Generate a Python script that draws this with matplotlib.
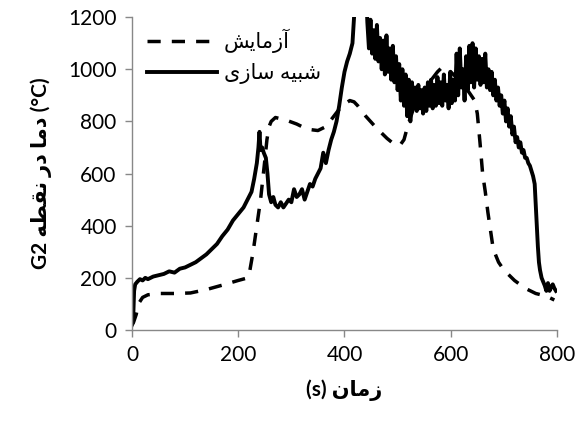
import matplotlib
matplotlib.use("Agg")
from matplotlib import pyplot as plt

# experiment (dashed)
exp_t = [0, 3, 8, 12, 20, 30, 50, 80, 110, 140, 170, 200, 218, 222, 228, 235,
         242, 250, 254, 258, 262, 270, 290, 310, 330, 350, 365, 380, 395, 410,
         418, 425, 440, 460, 480, 495, 505, 512, 520, 530, 545, 560, 575, 585,
         600, 620, 635, 645, 650, 655, 660, 665, 670, 675, 680, 690, 700, 720,
         740, 760, 780, 795]
exp_T = [20, 30, 60, 100, 125, 135, 140, 140, 142, 155, 172, 190, 200, 230,
         300, 400, 500, 650, 730, 780, 800, 815, 805, 790, 770, 765, 780, 820,
         860, 880, 875, 860, 820, 775, 735, 710, 710, 730, 790, 850, 900, 950,
         990, 1010, 990, 950, 910, 880, 830, 720, 600, 530, 450, 380, 310, 260,
         230, 190, 160, 140, 130, 115]

# simulation (solid)
sim_t = [0, 2, 4, 6, 10, 15, 20, 25, 30, 40, 50, 60, 70, 80, 90, 100, 110,
         120, 130, 140, 150, 160, 170, 180, 190, 200, 210, 220, 225, 230, 235,
         238, 240, 242, 245, 248, 252, 255, 258, 262, 266, 270, 275, 280, 285,
         290, 295, 300, 305, 310, 315, 320, 325, 330, 335, 340, 345, 350, 355,
         360, 365, 370, 375, 380, 385, 390, 395, 400, 405, 410, 415, 418, 422,
         440,
         443, 446, 449, 452, 455, 458, 461, 464, 467, 470, 473, 476, 479, 482,
         485, 488, 491, 494, 497, 500, 503, 506, 509, 512, 515, 518, 521, 524,
         527, 530, 533, 536, 539, 542, 545, 548, 551, 554, 557, 560,
         563, 566, 569, 572, 575, 578, 581, 584, 587, 590, 593, 596, 599, 602,
         605, 608, 611, 614, 617, 620, 623, 626, 629, 632, 635, 638, 641, 644,
         647, 650, 653, 656, 659, 662, 665, 668, 671, 674, 677, 680, 683, 686,
         689, 692, 695, 698, 701, 704, 707, 710, 713, 716, 719, 722, 725, 728,
         731, 734, 737, 740, 743, 746, 749, 752, 755, 758, 760, 762, 764, 766,
         768, 771, 774, 777, 780, 783, 786, 789, 792, 795, 798]
sim_T = [20, 30, 150, 175, 185, 195, 190, 200, 195, 205, 210, 215, 225, 220,
         235, 240, 250, 260, 275, 290, 310, 330, 360, 385, 420, 445, 470, 510,
         530, 580, 640, 700, 760, 690, 700, 680, 660, 600, 520, 490, 510, 480,
         470, 490, 470, 485, 500, 490, 540, 510, 520, 540, 500, 530, 560, 550,
         580, 600, 620, 680, 640, 690, 730, 760, 800, 860, 930, 990, 1030, 1060,
         1100, 1200, 1350, 1350,
         1180, 1080, 1190, 1060, 1150, 1040, 1170, 1030, 1120, 1000, 1110, 980,
         1130, 990, 1080, 960, 1090, 950, 1050, 920, 1020, 880, 1000, 860, 980,
         820, 960, 800, 950, 850, 930, 840, 940, 850, 920, 830, 930, 840, 950,
         860,
         960, 850, 940, 860, 970, 870, 950, 860, 980, 880, 940, 850, 990, 870,
         960, 880, 1060, 900, 1080, 930, 1000, 880, 1050, 920, 1090, 950, 1100,
         930, 1080, 960, 1050, 940, 1040, 950, 1060, 930, 1000, 920, 990, 900,
         960, 880, 930, 860, 900, 830, 880, 800, 850, 780, 820, 750, 780, 720,
         740, 700, 720, 680, 690, 660, 660, 640, 630, 610, 590, 560, 480, 400,
         320, 260, 230, 200, 185, 170, 150, 180, 150, 165, 175, 160, 150]

x_ticks = [0, 200, 400, 600, 800]
y_ticks = [0, 200, 400, 600, 800, 1000, 1200]

# Arabic-script labels written in shaped presentation forms, visual order
lbl_exp = "\uFEB6\uFBFE\uFE8E\uFEE3\uFEAF\uFE81"  # آزمایش
lbl_sim = "\uFBFC\uFEAF\uFE8E\uFEB3 \uFEEA\uFBFF\uFE92\uFEB7"  # شبیه سازی
x_label = "(s) \uFEE5\uFE8E\uFEE3\uFEAF"  # زمان (s)
y_label = ("G2 \uFEEA\uFEC4\uFED8\uFEE7 \uFEAD\uFEA9 \uFE8E\uFEE3\uFEA9 (\u00B0C)")

plt.rcParams['font.family'] = ['Lato', 'DejaVu Sans']

fig = plt.figure(figsize=(5.83, 4.28), dpi=100)
ax = fig.add_axes([0.2264, 0.229, 0.7290, 0.731])

ax.plot(exp_t, exp_T, color='black', lw=2.5, dashes=(3.8, 3.2), label=lbl_exp)
ax.plot(sim_t, sim_T, color='black', lw=2.8, label=lbl_sim)

ax.set_xlim(0, 800)
ax.set_ylim(0, 1200)
ax.set_xticks(x_ticks)
ax.set_yticks(y_ticks)
ax.tick_params(labelsize=15, color='#888888', length=5, width=1, pad=6)

for side in ['top', 'right']:
    ax.spines[side].set_visible(False)
for side in ['left', 'bottom']:
    ax.spines[side].set_color('#888888')
    ax.spines[side].set_linewidth(1)

ax.set_xlabel(x_label, fontsize=15, fontweight='bold', labelpad=10)
ax.set_ylabel(y_label, fontsize=15, fontweight='bold', labelpad=12)

ax.legend(loc='upper left', frameon=False, fontsize=15, handlelength=3.4,
          handletextpad=0.3, borderaxespad=0.3, bbox_to_anchor=(0.0, 1.01))

fig.savefig('out.png', dpi=100)
